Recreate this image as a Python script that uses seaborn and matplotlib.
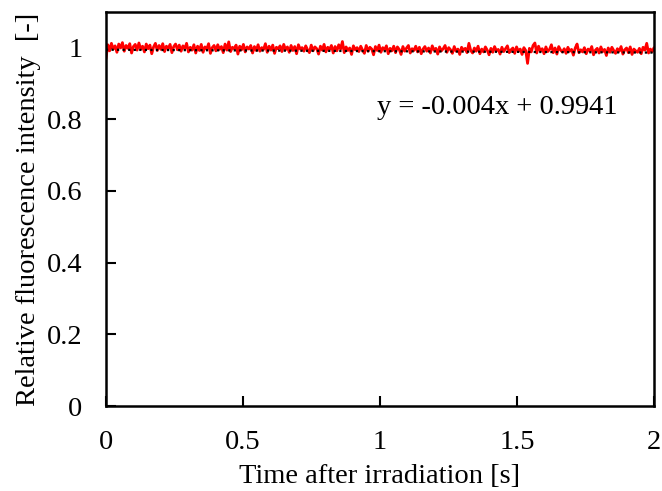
import numpy as np
import pandas as pd
import matplotlib
matplotlib.use("Agg")
import matplotlib.pyplot as plt
import seaborn as sns

# Relative fluorescence intensity samples, 0 .. 2 s
intensity = [
    0.968, 1.008, 0.991, 1.012, 0.996, 1.005, 0.987, 1.010, 0.999, 1.014,
    0.990, 1.006, 0.998, 1.011, 0.985, 1.003, 1.009, 0.993, 1.013, 0.996,
    1.004, 0.988, 1.010, 0.997, 1.007, 0.983, 1.002, 1.012, 0.992, 1.006,
    0.995, 1.011, 0.989, 1.004, 0.998, 1.009, 0.986, 1.003, 1.010, 0.994,
    1.007, 0.990, 1.005, 0.997, 1.012, 0.988, 1.001, 0.993, 1.008, 0.985,
    1.004, 0.992, 1.009, 0.987, 1.002, 0.996, 1.011, 0.984, 1.000, 1.006,
    0.991, 1.008, 0.995, 1.003, 0.986, 1.010, 0.993, 1.016, 0.989, 1.001,
    0.997, 1.007, 0.982, 1.004, 0.994, 1.009, 0.988, 1.002, 0.996, 1.006,
    0.985, 1.003, 0.992, 1.008, 0.990, 1.000, 0.995, 1.011, 0.987, 1.004,
    0.993, 1.007, 0.984, 1.001, 0.997, 1.005, 0.989, 1.009, 0.994, 1.002,
    0.987, 1.006, 0.992, 1.003, 0.983, 1.008, 0.996, 1.000, 0.990, 1.005,
    0.994, 0.986, 1.007, 0.991, 1.002, 0.997, 0.982, 1.004, 0.993, 1.009,
    0.988, 1.001, 0.995, 1.006, 0.985, 1.003, 0.991, 1.008, 0.996, 1.017,
    0.986, 1.002, 0.992, 0.999, 0.981, 1.005, 0.994, 1.000, 0.989, 1.004,
    0.993, 0.984, 1.006, 0.990, 1.001, 0.996, 0.980, 1.003, 0.992, 1.007,
    0.987, 1.000, 0.994, 1.005, 0.983, 0.998, 0.991, 1.004, 0.986, 1.002,
    0.995, 0.981, 1.003, 0.990, 0.999, 1.006, 0.985, 0.997, 0.992, 1.004,
    0.988, 1.001, 0.983, 0.996, 1.003, 0.990, 0.999, 0.985, 1.005, 0.993,
    0.998, 0.982, 1.002, 0.991, 0.997, 1.006, 0.987, 1.000, 0.994, 0.984,
    1.003, 0.990, 0.996, 0.981, 1.001, 0.993, 0.998, 0.986, 1.012, 0.992,
    0.985, 0.999, 0.990, 1.004, 0.983, 0.996, 0.988, 1.002, 0.993, 0.980,
    0.998, 0.987, 1.003, 0.991, 0.995, 0.982, 1.001, 0.989, 0.997, 1.005,
    0.986, 0.994, 0.999, 0.984, 1.002, 0.990, 0.996, 0.981, 1.000, 0.992,
    0.956, 0.998, 0.988, 1.006, 1.013, 0.985, 1.004, 0.991, 0.997, 0.983,
    1.002, 0.989, 0.995, 1.008, 0.986, 0.999, 0.982, 1.003, 0.993, 0.988,
    0.997, 0.984, 1.001, 0.990, 0.995, 0.979, 0.999, 1.010, 0.986, 0.994,
    0.988, 1.000, 0.983, 0.996, 0.991, 1.003, 0.980, 0.993, 0.998, 0.985,
    1.002, 0.989, 0.995, 0.978, 0.999, 0.987, 1.001, 0.992, 0.984, 0.997,
    0.990, 1.003, 0.982, 0.994, 0.999, 0.986, 1.002, 0.981, 0.996, 0.991,
    0.987, 0.998, 0.983, 1.001, 0.993, 1.012, 0.985, 0.996, 0.989, 1.000,
]
t_start, t_end = 0.0, 2.0
fit_slope, fit_intercept = -0.004, 0.9941
fit_label = "y = -0.004x + 0.9941"

x_ticks = [0, 0.5, 1, 1.5, 2]
x_ticklabels = ["0", "0.5", "1", "1.5", "2"]
y_ticks = [0, 0.2, 0.4, 0.6, 0.8, 1.0]
y_ticklabels = ["0", "0.2", "0.4", "0.6", "0.8", "1"]

time = np.linspace(t_start, t_end, len(intensity))
df = pd.DataFrame({"time": time, "intensity": intensity})
fit_x = np.array([t_start, t_end])
fit_df = pd.DataFrame({"time": fit_x, "fit": fit_intercept + fit_slope * fit_x})

sns.set_theme(style="ticks")
plt.rcParams["font.family"] = ["Liberation Serif", "DejaVu Serif"]
plt.rcParams["text.color"] = "black"
plt.rcParams["axes.labelcolor"] = "black"
plt.rcParams["xtick.color"] = "black"
plt.rcParams["ytick.color"] = "black"

FS = 20.5
fig = plt.figure(figsize=(6.62, 4.91), dpi=100)
ax = fig.add_axes([0.160, 0.173, 0.828, 0.803])

sns.lineplot(data=df, x="time", y="intensity", ax=ax, color="#ff0000",
             linewidth=2.0, zorder=2)
sns.lineplot(data=fit_df, x="time", y="fit", ax=ax, color="black",
             linewidth=1.6, linestyle=(0, (1, 1.5)), zorder=3)

ax.set_xlim(0, 2)
ax.set_ylim(0, 1.1)
ax.set_xticks(x_ticks)
ax.set_xticklabels(x_ticklabels)
ax.set_yticks(y_ticks)
ax.set_yticklabels(y_ticklabels)
ax.tick_params(direction="in", length=7, width=1.5, labelsize=FS,
               colors="black", labelcolor="black")
ax.tick_params(axis="x", pad=17)
ax.tick_params(axis="y", pad=17)
for s in ax.spines.values():
    s.set_linewidth(1.8)
    s.set_color("black")

ax.set_xlabel("Time after irradiation [s]", fontsize=FS, labelpad=7,
              color="black")
ax.set_ylabel("Relative fluorescence intensity  [-]", fontsize=FS,
              labelpad=4, color="black")
ax.text(0.99, 0.832, fit_label, fontsize=FS, ha="left", va="center",
        color="black")

fig.savefig("out.png", dpi=100)
